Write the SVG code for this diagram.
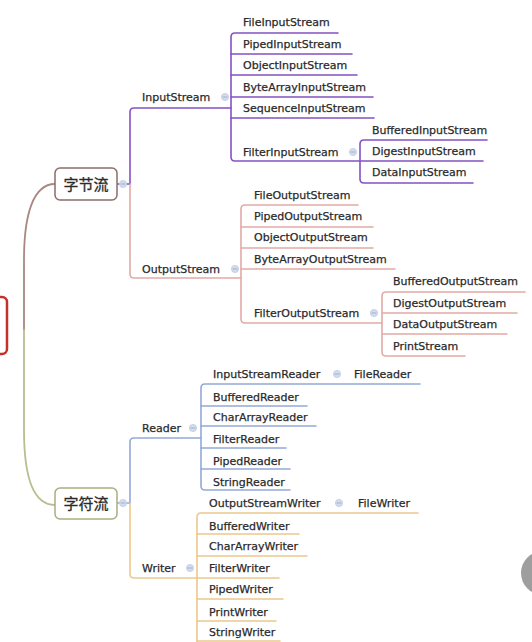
<svg xmlns="http://www.w3.org/2000/svg" width="532" height="642" viewBox="0 0 532 642">
<style>
text{font-family:"DejaVu Sans","Noto Sans CJK SC",sans-serif;font-size:11px;fill:#2a2a2a;stroke:#2a2a2a;stroke-width:0.25}
.zh{font-family:"Noto Sans CJK SC",sans-serif;font-size:15px;fill:#2a2a2a;stroke-width:0.3}
path,line{fill:none;stroke-linecap:round}
.p{stroke:#8452c2;stroke-width:1.6}
.o{stroke:#e2aaa6;stroke-width:1.6}
.b{stroke:#93a9d8;stroke-width:1.6}
.y{stroke:#ecc88c;stroke-width:1.6}
.dot{fill:#d3dcec;stroke:#bfcbe2;stroke-width:0.8}
.dm{stroke:#9fb0d0;stroke-width:1}
</style>
<defs>
<g id="col"><circle r="3.6" class="dot"/><line x1="-2" y1="0" x2="2" y2="0" class="dm"/></g>
</defs>
<rect width="532" height="642" fill="#fff"/>
<g id="connectors">
<path d="M24 330 V260 C24 215 33 184 55 184" stroke="#a88880" stroke-width="1.8"/>
<path d="M24 330 V430 C24 478 33 505 55 505" stroke="#b9bd8f" stroke-width="1.8"/>
<path class="p" d="M117 184 H130 V112 Q130 108 134 108 H231"/>
<path class="o" d="M130 184 V274 Q130 278 134 278 H241"/>
<path class="p" d="M338 33 H235 Q231 33 231 37 V157 Q231 161 235 161 H483"/>
<path class="p" d="M231 54 H352 M231 75 H357 M231 97 H373 M231 118 H374"/>
<path class="p" d="M487 140 H364 Q360 140 360 144 V179 Q360 183 364 183 H473"/>
<path class="o" d="M358 205 H245 Q241 205 241 209 V319 Q241 323 245 323 H382"/>
<path class="o" d="M241 227 H373 M241 248 H373 M241 269 H395"/>
<path class="o" d="M525 292 H386 Q382 292 382 296 V352 Q382 356 386 356 H465 M382 313 H517 M382 334 H507"/>
<path class="b" d="M117 503 H130 V442 Q130 438 134 438 H201"/>
<path class="y" d="M130 503 V574 Q130 578 134 578 H197"/>
<path class="b" d="M420 384 H205 Q201 384 201 388 V486 Q201 490 205 490 H290"/>
<path class="b" d="M201 406 H307 M201 426 H316 M201 448 H286 M201 469 H290"/>
<path class="y" d="M418 513 H201 Q197 513 197 517 V642"/>
<path class="y" d="M197 534 H299 M197 556 H307 M197 578 H279 M197 599 H283 M197 621 H276 M197 641 H280"/>
</g>
<g id="root"><rect x="-10" y="297" width="17" height="57" rx="5" fill="none" stroke="#c6302a" stroke-width="2.5"/></g>
<g id="n-byte"><rect x="55" y="168" width="62" height="32" rx="5" fill="#fff" stroke="#8b6e68" stroke-width="1.5"/><text class="zh" x="86" y="189.5" text-anchor="middle">字节流</text><use href="#col" x="123" y="184"/></g>
<g id="n-char"><rect x="55" y="488" width="62" height="31" rx="5" fill="#fff" stroke="#aaad80" stroke-width="1.5"/><text class="zh" x="86" y="509" text-anchor="middle">字符流</text><use href="#col" x="123" y="503"/></g>
<g id="n-inputstream"><text x="142" y="101">InputStream</text><use href="#col" x="225" y="97"/></g>
<g id="n-fileinputstream"><text x="243" y="26">FileInputStream</text></g>
<g id="n-pipedinputstream"><text x="243" y="48">PipedInputStream</text></g>
<g id="n-objectinputstream"><text x="243" y="69">ObjectInputStream</text></g>
<g id="n-bytearrayinputstream"><text x="243" y="91">ByteArrayInputStream</text></g>
<g id="n-sequenceinputstream"><text x="243" y="112">SequenceInputStream</text></g>
<g id="n-filterinputstream"><text x="243" y="156">FilterInputStream</text><use href="#col" x="353" y="152"/></g>
<g id="n-bufferedinputstream"><text x="372" y="134">BufferedInputStream</text></g>
<g id="n-digestinputstream"><text x="372" y="155">DigestInputStream</text></g>
<g id="n-datainputstream"><text x="372" y="176">DataInputStream</text></g>
<g id="n-outputstream"><text x="142" y="273">OutputStream</text><use href="#col" x="235" y="269"/></g>
<g id="n-fileoutputstream"><text x="254" y="199">FileOutputStream</text></g>
<g id="n-pipedoutputstream"><text x="254" y="220">PipedOutputStream</text></g>
<g id="n-objectoutputstream"><text x="254" y="241">ObjectOutputStream</text></g>
<g id="n-bytearrayoutputstream"><text x="254" y="263">ByteArrayOutputStream</text></g>
<g id="n-filteroutputstream"><text x="254" y="317">FilterOutputStream</text><use href="#col" x="374" y="313"/></g>
<g id="n-bufferedoutputstream"><text x="393" y="285">BufferedOutputStream</text></g>
<g id="n-digestoutputstream"><text x="393" y="307">DigestOutputStream</text></g>
<g id="n-dataoutputstream"><text x="393" y="328">DataOutputStream</text></g>
<g id="n-printstream"><text x="393" y="350">PrintStream</text></g>
<g id="n-reader"><text x="142" y="432">Reader</text><use href="#col" x="193" y="428"/></g>
<g id="n-inputstreamreader"><text x="213" y="378">InputStreamReader</text><use href="#col" x="337" y="374"/></g>
<g id="n-filereader"><text x="354" y="378">FileReader</text></g>
<g id="n-bufferedreader"><text x="213" y="401">BufferedReader</text></g>
<g id="n-chararrayreader"><text x="213" y="421">CharArrayReader</text></g>
<g id="n-filterreader"><text x="213" y="443">FilterReader</text></g>
<g id="n-pipedreader"><text x="213" y="465">PipedReader</text></g>
<g id="n-stringreader"><text x="213" y="486">StringReader</text></g>
<g id="n-writer"><text x="142" y="572">Writer</text><use href="#col" x="190" y="568"/></g>
<g id="n-outputstreamwriter"><text x="209" y="507">OutputStreamWriter</text><use href="#col" x="339" y="503"/></g>
<g id="n-filewriter"><text x="358" y="507">FileWriter</text></g>
<g id="n-bufferedwriter"><text x="209" y="530">BufferedWriter</text></g>
<g id="n-chararraywriter"><text x="209" y="550">CharArrayWriter</text></g>
<g id="n-filterwriter"><text x="209" y="572">FilterWriter</text></g>
<g id="n-pipedwriter"><text x="209" y="593">PipedWriter</text></g>
<g id="n-printwriter"><text x="209" y="616">PrintWriter</text></g>
<g id="n-stringwriter"><text x="209" y="636">StringWriter</text></g>
<circle cx="543" cy="573" r="22" fill="#9e9e9e"/>
</svg>
